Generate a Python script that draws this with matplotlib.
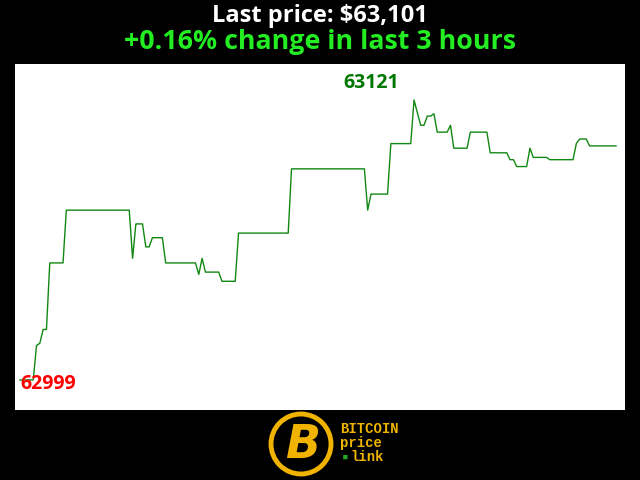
import matplotlib
matplotlib.use("Agg")
from matplotlib import pyplot as plt
from matplotlib.patches import Ellipse

# BTC price over the last 3 hours, breakpoints
minutes = [0, 4, 5, 6, 7, 8, 9, 13, 14, 33, 34, 35, 37, 38, 39, 40, 43, 44,
           53, 54, 55, 56, 60, 61, 65, 66, 81, 82, 104, 105, 106, 111, 112,
           118, 119, 121, 122, 123, 124, 125, 126, 129, 130, 131, 135, 136,
           141, 142, 147, 148, 149, 150, 153, 154, 155, 159, 160, 167, 168,
           169, 171, 172, 180]
prices = [62999, 62999, 63014, 63015, 63021, 63021, 63050, 63050, 63073,
          63073, 63052, 63067, 63067, 63057, 63057, 63061, 63061, 63050,
          63050, 63045, 63052, 63046, 63046, 63042, 63042, 63063, 63063,
          63091, 63091, 63073, 63080, 63080, 63102, 63102, 63121, 63110,
          63110, 63114, 63114, 63115, 63107, 63107, 63110, 63100, 63100,
          63107, 63107, 63098, 63098, 63095, 63095, 63092, 63092, 63100,
          63096, 63096, 63095, 63095, 63102, 63104, 63104, 63101, 63101]

last_price = prices[-1]
change = (prices[-1] - prices[0]) / prices[0] * 100
lo = min(prices)
hi = max(prices)
i_lo = prices.index(lo)
i_hi = prices.index(hi)

fig = plt.figure(figsize=(6.4, 4.8), dpi=100, facecolor="black")
ax = fig.add_axes([15 / 640, 70 / 480, 610 / 640, 346 / 480])
ax.plot(minutes, prices, color="#118811", linewidth=1.0)
ax.set_xlim(-1.5, 182.7)
ax.set_ylim(62985.9, 63136.7)
ax.axis("off")
ax.add_patch(plt.Rectangle((0, 0), 1, 1, transform=ax.transAxes,
                           facecolor="white", zorder=-1))

ax.annotate(str(lo), (minutes[i_lo], lo), xytext=(0, -4),
            textcoords="offset pixels", ha="left", va="center",
            color="red", fontsize=14, fontweight="bold", family="Open Sans")
ax.annotate(str(hi), (minutes[i_hi], hi), xytext=(-15, 7),
            textcoords="offset pixels", ha="right", va="bottom",
            color="#007700", fontsize=14, fontweight="bold", family="Open Sans")

fig.text(0.5, 1 - 16 / 480, "Last price: ${:,}".format(last_price),
         ha="center", va="center", color="white", fontsize=17,
         fontweight="bold", family="Open Sans")
fig.text(0.5, 1 - 42 / 480, "+{:.2f}% change in last 3 hours".format(change),
         ha="center", va="center", color="#22ee22", fontsize=19.3,
         fontweight="bold", family="Open Sans")

# logo at the bottom
gold = "#f0b400"
fig.patches.append(Ellipse((301 / 640, 1 - 444 / 480), 60 / 640, 60 / 480,
                           transform=fig.transFigure, facecolor="black",
                           edgecolor=gold, linewidth=3.5))
fig.text(303 / 640, 1 - 445 / 480, "B", ha="center", va="center",
         color=gold, fontsize=33, fontweight="bold", style="italic",
         family="DejaVu Sans")
fig.text(340 / 640, 1 - 429 / 480, "BITCOIN", ha="left", va="center",
         color=gold, fontsize=10, fontweight="bold", family="Liberation Mono")
fig.text(340 / 640, 1 - 443 / 480, "price", ha="left", va="center",
         color=gold, fontsize=10, fontweight="bold", family="Liberation Mono")
fig.text(342 / 640, 1 - 457 / 480, "\u25aa", ha="left", va="center",
         color="#22aa22", fontsize=8, family="DejaVu Sans Mono")
fig.text(350 / 640, 1 - 457 / 480, "link", ha="left", va="center",
         color=gold, fontsize=10, fontweight="bold", family="Liberation Mono")

fig.savefig("out.png", dpi=100, facecolor="black")
